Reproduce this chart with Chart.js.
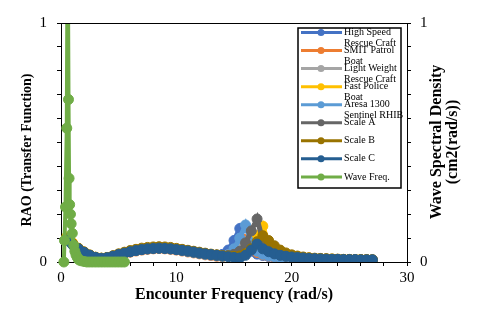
<!DOCTYPE html>
<html>
<head>
<meta charset="utf-8">
<script src="https://cdn.jsdelivr.net/npm/chart.js@4.4.0/dist/chart.umd.min.js"></script>
<style>
  html, body { margin: 0; padding: 0; background: #fff; }
  canvas { display: block; }
</style>
</head>
<body>
<canvas id="chart" width="480" height="315"></canvas>
<script>
// === Data ===
const freq = [0.5, 1, 1.5, 2, 2.5, 3, 3.5, 4, 4.5, 5, 5.5, 6, 6.5, 7, 7.5, 8, 8.5, 9, 9.5, 10, 10.5, 11, 11.5, 12, 12.5, 13, 13.5,
  14, 14.5, 15, 15.5, 16, 16.5, 17, 17.5, 18, 18.5, 19, 19.5, 20, 20.5, 21, 21.5, 22, 22.5, 23, 23.5, 24, 24.5, 25, 25.5, 26, 26.5, 27];

const highSpeed = [0.095, 0.075, 0.056, 0.041, 0.028, 0.019, 0.015, 0.018, 0.025, 0.032, 0.038, 0.044, 0.049, 0.053, 0.056, 0.058, 0.059, 0.058, 0.056, 0.053, 0.05, 0.046, 0.042, 0.038, 0.035, 0.032, 0.029,
  0.032, 0.05, 0.09, 0.14, 0.075, 0.045, 0.033, 0.027, 0.023, 0.02, 0.018, 0.016, 0.015, 0.014, 0.013, 0.012, 0.011, 0.011, 0.01, 0.01, 0.009, 0.009, 0.009, 0.008, 0.008, 0.008, 0.008];
const smitPatrol = [0.1, 0.078, 0.057, 0.041, 0.028, 0.018, 0.013, 0.016, 0.022, 0.029, 0.035, 0.041, 0.046, 0.05, 0.053, 0.055, 0.056, 0.055, 0.053, 0.05, 0.046, 0.042, 0.038, 0.034, 0.03, 0.027, 0.024,
  0.022, 0.028, 0.042, 0.068, 0.095, 0.06, 0.04, 0.03, 0.025, 0.021, 0.018, 0.016, 0.014, 0.013, 0.012, 0.011, 0.011, 0.01, 0.01, 0.009, 0.009, 0.009, 0.008, 0.008, 0.008, 0.008, 0.008];
const lightWeight = [0.092, 0.073, 0.055, 0.04, 0.028, 0.019, 0.015, 0.018, 0.024, 0.031, 0.037, 0.043, 0.048, 0.052, 0.055, 0.057, 0.058, 0.057, 0.055, 0.052, 0.049, 0.045, 0.041, 0.037, 0.034, 0.031, 0.028,
  0.026, 0.03, 0.038, 0.055, 0.085, 0.12, 0.07, 0.042, 0.031, 0.025, 0.021, 0.018, 0.016, 0.015, 0.014, 0.013, 0.012, 0.011, 0.011, 0.01, 0.01, 0.009, 0.009, 0.009, 0.009, 0.008, 0.008];
const fastPolice = [0.105, 0.08, 0.058, 0.042, 0.029, 0.02, 0.016, 0.019, 0.025, 0.032, 0.038, 0.044, 0.049, 0.053, 0.056, 0.058, 0.059, 0.058, 0.056, 0.053, 0.05, 0.046, 0.042, 0.038, 0.034, 0.031, 0.028,
  0.025, 0.024, 0.024, 0.027, 0.035, 0.06, 0.11, 0.15, 0.075, 0.048, 0.036, 0.029, 0.025, 0.022, 0.019, 0.017, 0.015, 0.014, 0.013, 0.012, 0.011, 0.011, 0.01, 0.01, 0.01, 0.009, 0.009];
const aresa = [0.093, 0.074, 0.055, 0.04, 0.028, 0.019, 0.015, 0.018, 0.024, 0.031, 0.037, 0.043, 0.048, 0.052, 0.055, 0.057, 0.058, 0.057, 0.055, 0.052, 0.048, 0.044, 0.04, 0.036, 0.032, 0.029, 0.026,
  0.024, 0.03, 0.055, 0.1, 0.155, 0.08, 0.045, 0.032, 0.026, 0.022, 0.019, 0.017, 0.015, 0.014, 0.013, 0.012, 0.011, 0.011, 0.01, 0.01, 0.009, 0.009, 0.009, 0.009, 0.008, 0.008, 0.008];
const scaleA = [0.094, 0.074, 0.056, 0.041, 0.028, 0.019, 0.015, 0.018, 0.024, 0.031, 0.037, 0.043, 0.048, 0.052, 0.055, 0.057, 0.058, 0.057, 0.055, 0.052, 0.049, 0.045, 0.041, 0.037, 0.034, 0.031, 0.028,
  0.026, 0.027, 0.032, 0.045, 0.08, 0.13, 0.18, 0.09, 0.05, 0.036, 0.029, 0.024, 0.021, 0.019, 0.017, 0.015, 0.014, 0.013, 0.012, 0.011, 0.011, 0.01, 0.01, 0.01, 0.009, 0.009, 0.009];
const scaleB = [0.098, 0.077, 0.057, 0.042, 0.029, 0.02, 0.016, 0.019, 0.026, 0.034, 0.041, 0.048, 0.053, 0.058, 0.061, 0.063, 0.064, 0.063, 0.061, 0.057, 0.053, 0.049, 0.045, 0.041, 0.037, 0.033, 0.03,
  0.027, 0.025, 0.024, 0.025, 0.035, 0.055, 0.085, 0.11, 0.09, 0.068, 0.05, 0.038, 0.03, 0.025, 0.021, 0.018, 0.016, 0.015, 0.014, 0.013, 0.012, 0.011, 0.011, 0.01, 0.01, 0.01, 0.009];
const scaleC = [0.09, 0.072, 0.055, 0.04, 0.028, 0.019, 0.015, 0.018, 0.024, 0.031, 0.037, 0.043, 0.048, 0.052, 0.055, 0.057, 0.058, 0.057, 0.055, 0.052, 0.049, 0.046, 0.042, 0.038, 0.034, 0.031, 0.028,
  0.025, 0.022, 0.019, 0.017, 0.028, 0.05, 0.075, 0.055, 0.043, 0.034, 0.028, 0.024, 0.021, 0.019, 0.017, 0.015, 0.014, 0.013, 0.012, 0.011, 0.011, 0.01, 0.01, 0.01, 0.009, 0.009, 0.009];

// wave spectrum (secondary axis)
const waveFreq = [0.25, 0.3, 0.39, 0.5, 0.58, 0.65, 0.7, 0.75, 0.82, 0.88, 0.98, 1.1, 1.2, 1.3, 1.4, 1.5, 1.6, 1.75, 2.0,
  2.25, 2.5, 2.75, 3.0, 3.25, 3.5, 3.75, 4.0, 4.25, 4.5, 4.75, 5.0, 5.25, 5.5];
const waveSpec = [0, 0.09, 0.23, 0.56, 1.4, 0.68, 0.35, 0.24, 0.2, 0.16, 0.12, 0.07, 0.045, 0.03, 0.02, 0.012, 0.008, 0.005, 0.002,
  0, 0, 0, 0, 0, 0, 0, 0, 0, 0, 0, 0, 0, 0];

const seriesNames = ['High Speed Rescue Craft', 'SMIT Patrol Boat', 'Light Weight Rescue Craft', 'Fast Police Boat',
  'Aresa 1300 Sentinel RHIB', 'Scale A', 'Scale B', 'Scale C', 'Wave Freq.'];
// legend lines as they wrap in the original
const legendLines = [['High Speed', 'Rescue Craft'], ['SMIT Patrol', 'Boat'], ['Light Weight', 'Rescue Craft'], ['Fast Police', 'Boat'],
  ['Aresa 1300', 'Sentinel RHIB'], ['Scale A'], ['Scale B'], ['Scale C'], ['Wave Freq.']];
const colors = ['#4472C4', '#ED7D31', '#A5A5A5', '#FFC000', '#5B9BD5', '#666666', '#997300', '#255E91', '#70AD47'];
const raoSeries = [highSpeed, smitPatrol, lightWeight, fastPolice, aresa, scaleA, scaleB, scaleC];

const serif = '"Liberation Serif", "Times New Roman", serif';

// === Datasets ===
const datasets = raoSeries.map((vals, i) => ({
  label: seriesNames[i],
  data: freq.map((f, j) => ({ x: f, y: vals[j] })),
  borderColor: colors[i], backgroundColor: colors[i],
  pointBackgroundColor: colors[i], pointBorderColor: colors[i],
  borderWidth: 5, pointRadius: 5, pointBorderWidth: 1,
  tension: 0, yAxisID: 'y',
  order: seriesNames.length - i
}));
datasets.push({
  label: seriesNames[8],
  data: waveFreq.map((f, j) => ({ x: f, y: waveSpec[j] })),
  borderColor: colors[8], backgroundColor: colors[8],
  pointBackgroundColor: colors[8], pointBorderColor: colors[8],
  borderWidth: 4, pointRadius: 5, pointBorderWidth: 1,
  tension: 0, yAxisID: 'y2',
  clip: { left: 10, top: 0, right: 10, bottom: 10 },
  order: 0
});

// === Plugins: frame, titles, legend ===
const framePlugin = {
  id: 'frame',
  afterDatasetsDraw(chart) {
    const { ctx, chartArea: a } = chart;
    ctx.save();
    ctx.strokeStyle = '#000'; ctx.lineWidth = 1;
    ctx.beginPath();
    ctx.moveTo(a.left, a.top + 0.5); ctx.lineTo(a.right, a.top + 0.5);
    ctx.stroke();
    ctx.restore();
  }
};

const titlePlugin = {
  id: 'titles',
  afterDraw(chart) {
    const ctx = chart.ctx;
    ctx.save();
    ctx.fillStyle = '#000';
    ctx.textAlign = 'center'; ctx.textBaseline = 'middle';
    // x title
    ctx.font = 'bold 16px ' + serif;
    ctx.fillText('Encounter Frequency (rad/s)', 234, 295);
    // left title
    ctx.save();
    ctx.translate(27, 150); ctx.rotate(-Math.PI / 2);
    ctx.font = 'bold 14px ' + serif;
    ctx.fillText('RAO (Transfer Function)', 0, 0);
    ctx.restore();
    // right title (two lines)
    ctx.save();
    ctx.translate(445, 142); ctx.rotate(-Math.PI / 2);
    ctx.font = 'bold 16px ' + serif;
    ctx.fillText('Wave Spectral Density', 0, -8);
    ctx.fillText('(cm2(rad/s))', 0, 8);
    ctx.restore();
    ctx.restore();
  }
};

const legendPlugin = {
  id: 'boxLegend',
  afterDraw(chart) {
    const ctx = chart.ctx;
    const bx = 298, by = 28, bw = 103, bh = 160;
    ctx.save();
    ctx.fillStyle = '#fff';
    ctx.fillRect(bx, by, bw, bh);
    ctx.strokeStyle = '#000'; ctx.lineWidth = 1.5;
    ctx.strokeRect(bx, by, bw, bh);
    ctx.font = '10px ' + serif;
    ctx.textBaseline = 'middle'; ctx.textAlign = 'left';
    legendLines.forEach((lines, i) => {
      const y = 32.5 + i * 18.05;
      ctx.strokeStyle = colors[i]; ctx.lineWidth = 3;
      ctx.beginPath(); ctx.moveTo(301, y); ctx.lineTo(342, y); ctx.stroke();
      ctx.fillStyle = colors[i];
      ctx.beginPath(); ctx.arc(321, y, 3.5, 0, Math.PI * 2); ctx.fill();
      ctx.fillStyle = '#000';
      lines.forEach((t, k) => ctx.fillText(t, 344, y + k * 10.5));
    });
    ctx.restore();
  }
};

// === Axes ===
const tickFont = { family: serif, size: 15 };
const axisGrid = { drawOnChartArea: false, drawTicks: true, tickLength: 4, color: '#000', tickWidth: 1 };
const axisBorder = { display: true, color: '#000', width: 1 };
const endLabel = v => (Math.abs(v) < 1e-9 ? '0' : (Math.abs(v - 1) < 1e-9 ? '1' : ''));

new Chart(document.getElementById('chart').getContext('2d'), {
  type: 'line',
  data: { datasets },
  plugins: [framePlugin, titlePlugin, legendPlugin],
  options: {
    responsive: false,
    animation: false,
    layout: { padding: { top: 23, left: 0, right: 0, bottom: 0 } },
    plugins: { legend: { display: false }, tooltip: { enabled: false } },
    scales: {
      x: {
        type: 'linear', min: 0, max: 30,
        ticks: { stepSize: 2, autoSkip: false, maxRotation: 0, color: '#000', font: tickFont, padding: 3,
          callback: v => (v % 10 === 0 ? String(v) : '') },
        grid: axisGrid, border: axisBorder,
        afterFit: s => { s.height = 53; }
      },
      y: {
        position: 'left', min: 0, max: 1,
        ticks: { stepSize: 0.1, autoSkip: false, color: '#000', font: tickFont, padding: 10, callback: endLabel },
        grid: axisGrid, border: axisBorder,
        afterFit: s => { s.width = 61; }
      },
      y2: {
        position: 'right', min: 0, max: 1,
        ticks: { stepSize: 0.1, autoSkip: false, color: '#000', font: tickFont, padding: 9, callback: endLabel },
        grid: axisGrid, border: axisBorder,
        afterFit: s => { s.width = 73; }
      }
    }
  }
});
</script>
</body>
</html>
